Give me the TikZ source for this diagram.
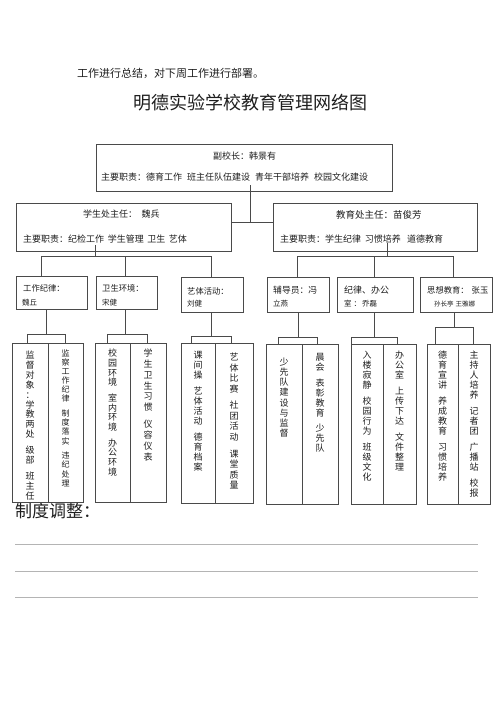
\documentclass[tikz,border=0pt]{standalone}
\usepackage{fontspec}
\setmainfont{Noto Sans CJK SC}
\usetikzlibrary{calc}
\definecolor{linec}{HTML}{4A4A4A}
\definecolor{txtc}{HTML}{1E1E1E}
\definecolor{rulec}{HTML}{B4B4B4}
\newcommand\fsz[1]{\fontsize{#1}{#1}\selectfont}
\newcommand\mygap{\hspace{0.55em}}
\ExplSyntaxOn
\NewDocumentCommand \vtext { O{10pt} m }
  {
    \vbox:n
      {
        \offinterlineskip
        \tl_map_inline:nn { #2 }
          {
            \str_if_eq:nnTF { ##1 } { * }
              { \skip_vertical:n { #1 * 6 / 10 } }
              {
                \hbox_to_wd:nn { 1.2em }
                  { \hss \rule [ \dim_eval:n { 0.38em - #1 / 2 } ] { 0pt } { #1 } ##1 \hss }
              }
          }
      }
  }
\ExplSyntaxOff
\tikzset{
  box/.style={draw=linec, line width=0.7pt, fill=white, inner sep=0pt, rectangle},
  conn/.style={draw=linec, line width=0.7pt},
  txt/.style={inner sep=0pt, text=txtc},
  vt/.style={inner sep=0pt, text=txtc, font=\fsz{9}, anchor=north},
  blank/.style={draw=rulec, line width=0.8pt}
}
\begin{document}
\begin{tikzpicture}[x=1pt,y=-1pt]
\useasboundingbox (0,0) rectangle (500,707);

% header texts
\node[txt, font=\fsz{11}, anchor=west] (intro) at (77,73) {工作进行总结，对下周工作进行部署。};
\node[txt, font=\fsz{18}] (title) at (250,103) {明德实验学校教育管理网络图};
\node[txt, font=\fsz{17}, anchor=west] (zd) at (15,511) {制度调整：};

% level 1
\node[box, minimum width=296pt, minimum height=47pt] (vp) at (244,167.5) {};
\node[txt, font=\fsz{9}] (vpt) at (244.5,156.5) {副校长：韩景有};
\node[txt, font=\fsz{9}, anchor=west] (vpd) at (101,177) {主要职责：德育工作\mygap 班主任队伍建设\mygap 青年干部培养\mygap 校园文化建设};

% level 2
\node[box, minimum width=215pt, minimum height=48pt] (xs) at (123.5,227) {};
\node[txt, font=\fsz{9}, anchor=west] (xst) at (83,214) {学生处主任：\hspace{0.5em}魏兵};
\node[txt, font=\fsz{9}, anchor=west] (xsd) at (23,239) {主要职责：纪检工作\hspace{0.4em}学生管理\hspace{0.4em}卫生\hspace{0.4em}艺体};

\node[box, minimum width=204pt, minimum height=48pt] (jy) at (375,227) {};
\node[txt, font=\fsz{9.5}, anchor=west] (jyt) at (336,215) {教育处主任：苗俊芳};
\node[txt, font=\fsz{9}, anchor=west] (jyd) at (280,239) {主要职责：学生纪律\hspace{0.4em}习惯培养\hspace{0.7em}道德教育};

% level 1 -> level 2
\coordinate (j1) at (250,222);
\draw[conn] ([yshift=6pt]vp.south -| j1) -- (j1);
\draw[conn] (xs.east |- j1) -- (jy.west |- j1);

% level 3 boxes
\node[box, minimum width=71pt, minimum height=33pt] (a1) at (51.5,292.5) {};
\node[box, minimum width=61pt, minimum height=33pt] (a2) at (126.5,292.5) {};
\node[box, minimum width=62pt, minimum height=35pt] (a3) at (212,294.5) {};
\node[box, minimum width=62pt, minimum height=35pt] (b1) at (298,294.5) {};
\node[box, minimum width=76pt, minimum height=35pt] (b2) at (375,294.5) {};
\node[box, minimum width=72pt, minimum height=35pt] (b3) at (456,294.5) {};

\node[txt, font=\fsz{8.3}, anchor=west] (a1t) at (23,288) {工作纪律：};
\node[txt, font=\fsz{7.5}, anchor=west] (a1n) at (22,303) {魏丘};
\node[txt, font=\fsz{8.3}, anchor=west] (a2t) at (102,288) {卫生环境：};
\node[txt, font=\fsz{7.5}, anchor=west] (a2n) at (102,303) {宋健};
\node[txt, font=\fsz{8.3}, anchor=west] (a3t) at (187,291) {艺体活动：};
\node[txt, font=\fsz{7.5}, anchor=west] (a3n) at (187,304) {刘健};
\node[txt, font=\fsz{8.8}, anchor=west] (b1t) at (273,290) {辅导员：冯};
\node[txt, font=\fsz{7.5}, anchor=west] (b1n) at (273,304) {立燕};
\node[txt, font=\fsz{9}, anchor=west] (b2t) at (344,290) {纪律、办公};
\node[txt, font=\fsz{7.5}, anchor=west] (b2n) at (344,304) {室\hspace{2pt}：\hspace{1pt}乔磊};
\node[txt, font=\fsz{8.3}, anchor=west] (b3t) at (427,290) {思想教育：\hspace{3pt}张玉};
\node[txt, font=\fsz{6.5}, anchor=west] (b3n) at (434,304) {孙长亭\hspace{2pt}王雅娜};

% level 2 -> level 3
\coordinate (j2) at (95,256);
\coordinate (j2l) at (41,256);
\coordinate (j2m) at (125,256);
\coordinate (j2r) at (211,256);
\draw[conn] ([yshift=6pt]xs.south -| j2) -- (j2);
\draw[conn] (j2l) -- (j2r);
\draw[conn] (j2l) -- (j2l |- a1.north);
\draw[conn] (j2m) -- (j2m |- a2.north);
\draw[conn] (j2r) -- (j2r |- a3.north);

\coordinate (j3) at (387,256);
\coordinate (j3l) at (297,256);
\coordinate (j3m) at (374,256);
\coordinate (j3r) at (453,256);
\draw[conn] ([yshift=8pt]jy.south -| j3) -- (j3);
\draw[conn] (j3l) -- (j3r);
\draw[conn] (j3l) -- (j3l |- b1.north);
\draw[conn] (j3m) -- (j3m |- b2.north);
\draw[conn] (j3r) -- (j3r |- b3.north);

% columns
\node[box, minimum width=36pt, minimum height=159pt] (c11) at (30,422.5) {};
\node[box, minimum width=35pt, minimum height=159pt] (c12) at (65.5,422.5) {};
\node[box, minimum width=35pt, minimum height=159pt] (c21) at (112.5,422.5) {};
\node[box, minimum width=36pt, minimum height=159pt] (c22) at (148,422.5) {};
\node[box, minimum width=34pt, minimum height=160pt] (c31) at (198,423) {};
\node[box, minimum width=38pt, minimum height=160pt] (c32) at (234,423) {};
\node[box, minimum width=36pt, minimum height=160pt] (c41) at (284,424) {};
\node[box, minimum width=36pt, minimum height=160pt] (c42) at (320,424) {};
\node[box, minimum width=32pt, minimum height=160pt] (c51) at (367,424) {};
\node[box, minimum width=33pt, minimum height=160pt] (c52) at (399.5,424) {};
\node[box, minimum width=31pt, minimum height=160pt] (c61) at (442.5,424) {};
\node[box, minimum width=32pt, minimum height=160pt] (c62) at (474,424) {};

% level 3 -> columns
\foreach \p/\cx/\by/\xl/\xr/\ca/\cb in {
  a1/46/334/27/65/c11/c12,
  a2/125/334/107/147/c21/c22,
  a3/211/336/191/231/c31/c32,
  b1/298/337/278/317/c41/c42,
  b2/374/337/351/397/c51/c52,
  b3/454/327/435/473/c61/c62}{
  \coordinate (k\p) at (\cx,\by);
  \coordinate (k\p l) at (\xl,\by);
  \coordinate (k\p r) at (\xr,\by);
  \draw[conn] (k\p |- \p.south) -- (k\p);
  \draw[conn] (k\p l) -- (k\p r);
  \draw[conn] (k\p l) -- (k\p l |- \ca.north);
  \draw[conn] (k\p r) -- (k\p r |- \cb.north);
}

% column texts
\node[vt] (t11) at (30,350) {\vtext[9.9pt]{监督对象：学教两处*级部*班主任}};
\node[vt, font=\fsz{8}] (t12) at (65.5,348.4) {\vtext[9.15pt]{监察工作纪律*制度落实*违纪处理}};
\node[vt] (t21) at (112.5,348) {\vtext[9.75pt]{校园环境*室内环境*办公环境}};
\node[vt] (t22) at (148,347.6) {\vtext[10.8pt]{学生卫生习惯*仪容仪表}};
\node[vt] (t31) at (198,350) {\vtext[10pt]{课间操*艺体活动*德育档案}};
\node[vt] (t32) at (234,351.7) {\vtext[10.5pt]{艺体比赛*社团活动*课堂质量}};
\node[vt] (t41) at (284,357) {\vtext[10.1pt]{少先队建设与监督}};
\node[vt] (t42) at (320,352) {\vtext[9.9pt]{晨会*表彰教育*少先队}};
\node[vt] (t51) at (367,350) {\vtext[10pt]{入楼寂静*校园行为*班级文化}};
\node[vt] (t52) at (399.5,350) {\vtext[10pt]{办公室*上传下达*文件整理}};
\node[vt] (t61) at (442.5,350) {\vtext[10pt]{德育宣讲*养成教育*习惯培养}};
\node[vt] (t62) at (474,350) {\vtext[10pt]{主持人培养*记者团*广播站*校报}};

% blank lines
\coordinate (l1a) at (15,544); \coordinate (l1b) at (478,544);
\coordinate (l2a) at (15,571); \coordinate (l2b) at (478,571);
\coordinate (l3a) at (15,597); \coordinate (l3b) at (478,597);
\draw[blank] (l1a) -- (l1b);
\draw[blank] (l2a) -- (l2b);
\draw[blank] (l3a) -- (l3b);
\end{tikzpicture}
\end{document}
